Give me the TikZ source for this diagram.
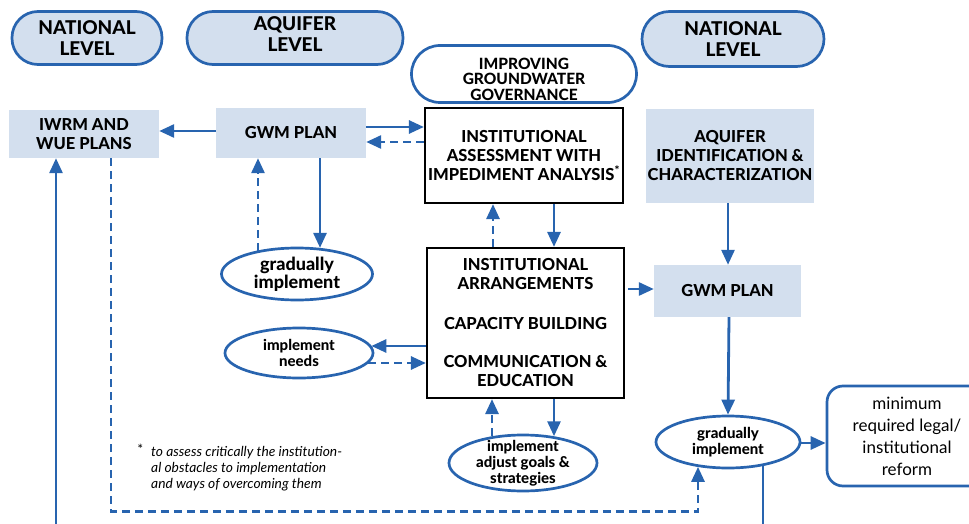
\documentclass[tikz,border=0pt]{standalone}
\usepackage{fontspec}
\setmainfont{Lato}[BoldFont={Lato Heavy}]
\usetikzlibrary{arrows.meta,calc,shapes.geometric}
\definecolor{gwblue}{RGB}{40,100,175}
\definecolor{gwfill}{RGB}{211,223,238}

\begin{document}
\begin{tikzpicture}[x=1pt,y=-1pt,
  pill/.style={draw=gwblue,line width=2.7pt,rounded corners=#1,align=center,inner sep=0pt,
    font=\bfseries\fontsize{19}{21}\selectfont},
  pill/.default=26pt,
  lvl/.style={pill=#1,fill=gwfill},
  lvl/.default=26pt,
  plan/.style={fill=gwfill,align=center,inner sep=0pt,font=\bfseries\fontsize{16.5}{19}\selectfont},
  task/.style={draw=black,line width=2.2pt,fill=white,align=center,inner sep=0pt,
    font=\bfseries\fontsize{16.5}{19}\selectfont},
  oval/.style={ellipse,draw=gwblue,line width=2.7pt,fill=white,align=center,inner sep=0pt,
    font=\bfseries\fontsize{15}{16}\selectfont},
  arr/.style={draw=gwblue,line width=2.8pt,-{Triangle[length=15pt,width=13pt]}},
  dashln/.style={dash pattern=on 8pt off 5pt}]
\useasboundingbox (0,0) rectangle (969,524);

% levels
\node[lvl, minimum width=150pt, minimum height=53pt] (natL) at (87,38) {NATIONAL\\LEVEL};
\node[lvl, minimum width=216pt, minimum height=53pt,
  label={[align=center,font=\bfseries\fontsize{19}{21}\selectfont,yshift=4pt]center:AQUIFER\\LEVEL}]
  (aqL) at (295,38) {};
\node[lvl=27.5pt, minimum width=182pt, minimum height=55pt] (natR) at (733,39) {NATIONAL\\LEVEL};
\node[pill=28.5pt, fill=white, minimum width=225pt, minimum height=57pt,
  label={[align=center,font=\bfseries\fontsize{15.5}{15.5}\selectfont,yshift=-5pt]center:IMPROVING\\GROUNDWATER\\GOVERNANCE}]
  (improve) at (524,74) {};

% plans and tasks
\node[plan, minimum width=150pt, minimum height=48pt] (iwrm) at (84,134) {IWRM AND\\WUE PLANS};
\node[plan, minimum width=150pt, minimum height=50pt] (gwmA) at (291,133) {GWM PLAN};
\node[task, minimum width=198pt, minimum height=95pt] (assess) at (524,155.5)
  {INSTITUTIONAL\\ASSESSMENT WITH\\IMPEDIMENT ANALYSIS\textsuperscript{*}};
\node[plan, minimum width=168pt, minimum height=94pt] (aqId) at (730,156)
  {AQUIFER\\IDENTIFICATION \&\\CHARACTERIZATION};
\node[task, minimum width=197pt, minimum height=150pt] (arrange) at (525.5,323)
  {INSTITUTIONAL\\ARRANGEMENTS\\[21pt]CAPACITY BUILDING\\[19pt]COMMUNICATION \&\\EDUCATION};
\node[plan, minimum width=147pt, minimum height=52pt] (gwmB) at (727.5,291) {GWM PLAN};

% ovals
\node[oval, minimum width=151pt, minimum height=52pt, font=\bfseries\fontsize{18}{15}\selectfont]
  (gradA) at (297,274) {gradually\\implement};
\node[oval, minimum width=148pt, minimum height=50pt] (needs) at (299,353) {implement\\needs};
\node[oval, minimum width=148pt, minimum height=56pt, inner xsep=-2pt, inner ysep=-7pt]
  (adjust) at (523,463) {implement\\adjust goals \&\\strategies};
\node[oval, minimum width=144pt, minimum height=52pt] (gradB) at (728,442) {gradually\\implement};
\node[draw=gwblue, line width=2.7pt, rounded corners=16pt, minimum width=160pt, minimum height=100pt,
  align=center, inner sep=0pt, font=\fontsize{17}{22}\selectfont]
  (reform) at (907,436) {minimum\\required legal/\\institutional\\reform};

% footnote
\node[anchor=west, align=left, inner sep=0pt, font=\itshape\fontsize{13.8}{16}\selectfont] (note) at (151,468)
  {\llap{\raisebox{2pt}{\upshape*}\hspace{8pt}}to assess critically the institution-\\al obstacles to implementation\\and ways of overcoming them};

% connectors
\draw[arr] ($(gwmA.west)+(0,-2)$) -- ($(iwrm.east)+(0,-3)$);
\draw[arr] ($(gwmA.east)+(0,-6)$) -- ($(assess.west)+(0,-28.5)$);
\draw[arr,dashln] ($(assess.west)+(0,-13.5)$) -- ($(gwmA.east)+(0,9)$);
\coordinate (iwrmIn) at (56,524);
\draw[arr] (iwrmIn) -- (iwrmIn |- iwrm.south);
\draw[arr,dashln] ($(iwrm.south)+(27,0)$) |- ($(gradB.south)+(-30,42)$) -- ($(gradB.south)+(-30,-2.5)$);

\draw[arr,dashln] ($(gradA.north)+(-39,4.3)$) -- ($(gwmA.south)+(-33,0)$);
\draw[arr] ($(gwmA.south)+(29,0)$) -- ($(gradA.north)+(23,1.2)$);
\draw[arr] ($(arrange.west)+(0,23)$) -- ($(needs.east)+(-3,-7)$);
\draw[arr,dashln] ($(needs.east)+(-6,10)$) -- ($(arrange.west)+(0,40)$);

\draw[arr] ($(assess.south)+(30,0)$) -- ($(arrange.north)+(28.5,0)$);
\draw[arr,dashln] ($(arrange.north)+(-32.5,0)$) -- ($(assess.south)+(-31,0)$);
\draw[arr] ($(arrange.south)+(28.5,0)$) -- ($(adjust.north)+(31,2.6)$);
\draw[arr,dashln] ($(adjust.north)+(-31,2.6)$) -- ($(arrange.south)+(-33.5,0)$);

\draw[arr] ($(arrange.east)+(3,-34)$) -- ($(gwmB.west)+(0,-2)$);
\draw[arr] ($(aqId.south)+(-2,0)$) -- ($(gwmB.north)+(0.5,0)$);
\draw[arr] ($(gwmB.south)+(1.5,0)$) -- (gradB.north);
\draw[arr] ($(gradB.east)+(0,1)$) -- ($(reform.west)+(0,7)$);
\coordinate (gradOut) at (763,524);
\draw[gwblue, line width=2.8pt] ($(gradB.south)+(35,-3.3)$) -- (gradOut);
\end{tikzpicture}
\end{document}
